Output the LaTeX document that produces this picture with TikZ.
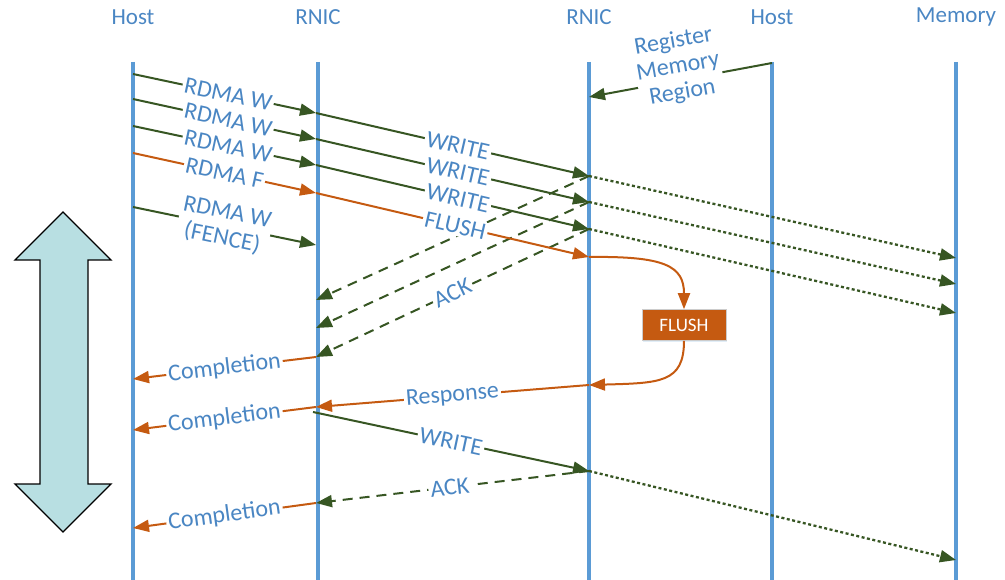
\documentclass[tikz,border=0pt]{standalone}
\usepackage{fontspec}
\setmainfont{Carlito}
\usetikzlibrary{arrows.meta,shadows}

\definecolor{lane}{HTML}{5B9BD5}
\definecolor{txt}{HTML}{4A86C3}
\definecolor{wgreen}{HTML}{375623}
\definecolor{forange}{HTML}{C55A11}
\definecolor{spanfill}{HTML}{B8DFE2}

\begin{document}
\begin{tikzpicture}[x=1pt,y=-1pt,
  lifeline/.style={draw=lane,line width=3.5pt},
  head/.style={text=txt,font=\fontsize{23}{25}\selectfont},
  lbl/.style={text=txt,font=\fontsize{24}{26}\selectfont,fill=white,inner sep=2pt,sloped},
  tip/.style={-{Triangle[length=16pt,width=12pt]}},
  wmsg/.style={tip,draw=wgreen,line width=2pt},
  fmsg/.style={tip,draw=forange,line width=2pt},
  ackmsg/.style={tip,draw=wgreen,line width=2pt,dash pattern=on 10pt off 7pt},
  placemsg/.style={tip,draw=wgreen,line width=2.3pt,dash pattern=on 3pt off 2.5pt},
  opbox/.style={fill=forange,draw=black!20,line width=0.6pt,text=white,
    minimum width=84pt,minimum height=31pt,inner sep=0pt,
    font=\fontsize{19}{21}\selectfont,
    drop shadow={shadow xshift=1pt,shadow yshift=-2pt,opacity=0.18,fill=lane}},
  span/.style={fill=spanfill,draw=black,line width=1.3pt,line join=miter},
]
\useasboundingbox (0,0) rectangle (1005,580);

% lifelines and their headings
\foreach \n/\x/\t in {L1/133/Host,L2/318/RNIC,L3/589/RNIC,L4/772/Host,L5/956/Memory}{
  \coordinate (\n t) at (\x,62);
  \coordinate (\n b) at (\x,580);
  \node[head] (\n h) at (\x,17) {\t};
  \draw[lifeline] (\n t) -- (\n b);
}

% message end points
\coordinate (a1) at (133,74);  \coordinate (b1) at (316,113); \coordinate (c1) at (589,176); \coordinate (d1) at (956,258);
\coordinate (a2) at (133,99);  \coordinate (b2) at (316,139); \coordinate (c2) at (589,202); \coordinate (d2) at (956,284);
\coordinate (a3) at (133,126); \coordinate (b3) at (316,165); \coordinate (c3) at (589,229); \coordinate (d3) at (956,313);
\coordinate (af) at (133,153); \coordinate (bf) at (316,193); \coordinate (cf) at (589,257);
\coordinate (ae) at (133,207); \coordinate (be) at (316,245);
\coordinate (k1) at (316,300); \coordinate (k2) at (316,328); \coordinate (k3) at (316,357);
\coordinate (m1) at (133,379);
\coordinate (r1) at (589,385); \coordinate (r2) at (316,407); \coordinate (m2) at (133,430);
\coordinate (w0) at (313,412); \coordinate (w1) at (589,471); \coordinate (w2) at (956,560);
\coordinate (k5) at (316,503); \coordinate (m3) at (133,528);
\coordinate (regA) at (772,63); \coordinate (regB) at (589,97);

% acknowledgements from the remote RNIC
\draw[ackmsg] (c1) -- (k1);
\draw[ackmsg] (c2) -- (k2);
\draw[ackmsg] (c3) -- node[lbl,pos=0.5] {ACK} (k3);

% memory registration
\draw[wmsg] (regA) -- (regB);
\node[text=txt,font=\fontsize{24}{26}\selectfont,fill=white,inner sep=1pt,align=center,rotate=10]
  (reg) at (678,67) {Register\\Memory\\Region};

% posted writes and flush
\draw[wmsg] (a1) -- node[lbl,pos=0.52] {RDMA W} (b1);
\draw[wmsg] (a2) -- node[lbl,pos=0.52] {RDMA W} (b2);
\draw[wmsg] (a3) -- node[lbl,pos=0.52] {RDMA W} (b3);
\draw[fmsg] (af) -- node[lbl,pos=0.5] {RDMA F} (bf);
\draw[wmsg] (ae) -- node[lbl,pos=0.5,align=center] {RDMA W\\(FENCE)} (be);

\draw[wmsg] (b1) -- node[lbl,pos=0.52] {WRITE} (c1);
\draw[wmsg] (b2) -- node[lbl,pos=0.52] {WRITE} (c2);
\draw[wmsg] (b3) -- node[lbl,pos=0.52] {WRITE} (c3);
\draw[fmsg] (bf) -- node[lbl,pos=0.51] {FLUSH} (cf);

\draw[placemsg] (c1) -- (d1);
\draw[placemsg] (c2) -- (d2);
\draw[placemsg] (c3) -- (d3);

% flush operation at the responder
\node[opbox] (fb) at (684,325) {FLUSH};
\draw[fmsg] (cf) .. controls (665,256) and (684,266) .. (fb.north);
\draw[fmsg] (fb.south) .. controls (684,383) and (660,383) .. (r1);
\draw[fmsg] (r1) -- node[lbl,pos=0.5] {Response} (r2);

% completions to the host
\draw[fmsg] (k3) -- node[lbl,pos=0.5] {Completion} (m1);
\draw[fmsg] (r2) -- node[lbl,pos=0.5] {Completion} (m2);

% fenced write after the flush response
\draw[ackmsg] (w1) -- node[lbl,pos=0.51] {ACK} (k5);
\draw[wmsg] (w0) -- node[lbl,pos=0.5] {WRITE} (w1);
\draw[placemsg] (w1) -- (w2);
\draw[fmsg] (k5) -- node[lbl,pos=0.5] {Completion} (m3);

% time span indicator
\draw[span] (63,212) -- (111,260) -- (88,260) -- (88,484) -- (111,484) -- (63,532)
  -- (15,484) -- (40,484) -- (40,260) -- (15,260) -- cycle;
\end{tikzpicture}
\end{document}
